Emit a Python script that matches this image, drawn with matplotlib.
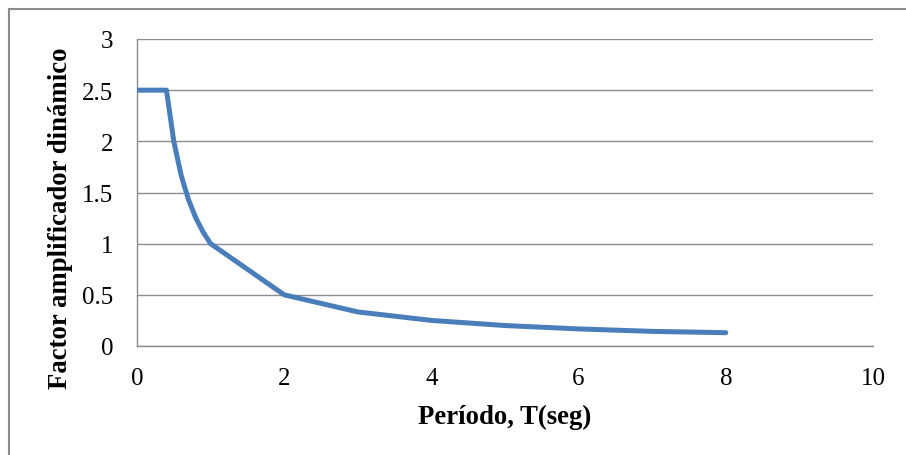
import matplotlib
matplotlib.use("Agg")
import matplotlib.pyplot as plt
from matplotlib.lines import Line2D

periodo = [0, 0.1, 0.2, 0.3, 0.4, 0.5, 0.6, 0.7, 0.8, 0.9, 1.0, 2, 3, 4, 5, 6, 7, 8]
factor = [2.5, 2.5, 2.5, 2.5, 2.5, 2.0, 1.667, 1.429, 1.25, 1.111, 1.0, 0.5, 0.333, 0.25, 0.2, 0.167, 0.143, 0.13]
x_ticks = [0, 2, 4, 6, 8, 10]
y_ticks = [0, 0.5, 1, 1.5, 2, 2.5, 3]
y_tick_labels = ['0', '0.5', '1', '1.5', '2', '2.5', '3']
x_label = "Período, T(seg)"
y_label = "Factor amplificador dinámico"

plt.rcParams['font.family'] = ['Liberation Serif', 'DejaVu Serif']

fig = plt.figure(figsize=(9.06, 4.56), dpi=100)
ax = fig.add_axes([137/906, 1-347/456, (873-137)/906, (347-40)/456])

# outer chart border (left and top visible)
fig.add_artist(Line2D([9/906, 9/906], [0, 1-10/456], transform=fig.transFigure, color='#8c8c8c', lw=1.5))
fig.add_artist(Line2D([9/906, 1], [1-10/456, 1-10/456], transform=fig.transFigure, color='#8c8c8c', lw=1.5))

ax.plot(periodo, factor, color='#4A7EBB', lw=3.6, solid_capstyle='round', solid_joinstyle='round', zorder=3)

ax.set_xlim(0, 10)
ax.set_ylim(0, 3)
ax.set_xticks(x_ticks)
ax.set_yticks(y_ticks)
ax.set_xticklabels([str(v) for v in x_ticks])
ax.set_yticklabels(y_tick_labels)
ax.tick_params(length=0, labelsize=18)
ax.tick_params(axis='x', pad=15)
ax.tick_params(axis='y', pad=17)

ax.yaxis.grid(True, color='#8c8c8c', lw=1)
ax.set_axisbelow(True)
for s in ['top', 'right']:
    ax.spines[s].set_visible(False)
for s in ['left', 'bottom']:
    ax.spines[s].set_color('#8c8c8c')
    ax.spines[s].set_linewidth(1)

xl = ax.set_xlabel(x_label, fontsize=19.3, fontweight='bold')
yl = ax.set_ylabel(y_label, fontsize=19.3, fontweight='bold')
xl.set_va('baseline')
yl.set_va('baseline')
ax.xaxis.set_label_coords(0.5, (347-424)/307)
ax.yaxis.set_label_coords((67-137)/736, (347-218)/307)

fig.savefig("out.png", dpi=100, facecolor='white')
